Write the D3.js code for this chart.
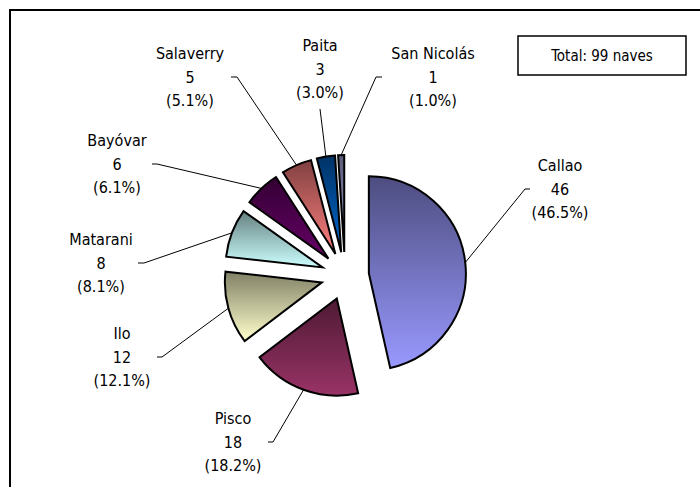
<!DOCTYPE html>
<html>
<head>
<meta charset="utf-8">
<script src="https://cdn.jsdelivr.net/npm/d3@7"></script>
<style>
  html, body { margin: 0; padding: 0; background: #fff; }
  svg { display: block; }
</style>
</head>
<body>
<svg id="chart" width="700" height="487"></svg>
<script>
// ---- data ----
const ports = ["Callao", "Pisco", "Ilo", "Matarani", "Bayóvar", "Salaverry", "Paita", "San Nicolás"];
const ships = [46, 18, 12, 8, 6, 5, 3, 1];
const totalLabel = "Total: 99 naves";

// ---- styling / layout (not data) ----
const colorTop = ["#4d4d80", "#4d1a33", "#808066", "#668080", "#330033", "#804040", "#003366", "#5a5a7a"];
const colorBottom = ["#9999ff", "#993366", "#ffffcc", "#ccffff", "#660066", "#ff8080", "#0066cc", "#a0a0cc"];
// label centre (middle line) and leader tick [x1, x2] at tick y
const labelLayout = [
  { x: 560, y: 189, tick: [530, 525] },
  { x: 233, y: 442, tick: [268, 273] },
  { x: 122, y: 357, tick: [157, 162] },
  { x: 101, y: 263, tick: [138, 144] },
  { x: 117, y: 164, tick: [152, 157] },
  { x: 190, y: 77,  tick: [231, 237] },
  { x: 320, y: 69,  tick: null, start: [320, 109] },
  { x: 433, y: 77,  tick: [382, 376] }
];

const svg = d3.select("#chart");
const cx = 345, cy = 276, R = 97, explode = 24;
const lineH = 23.5;
const fontFam = "'DejaVu Sans Condensed', 'DejaVu Sans', sans-serif";

// outer frame
svg.append("rect").attr("x", 10).attr("y", 10).attr("width", 720).attr("height", 500)
  .attr("fill", "none").attr("stroke", "#000").attr("stroke-width", 2);

const total = d3.sum(ships);
const data = ports.map((p, i) => ({ name: p, value: ships[i], i }));

const pie = d3.pie().value(d => d.value).sort(null).startAngle(0).endAngle(2 * Math.PI);
const arcs = pie(data);
const arc = d3.arc().innerRadius(0).outerRadius(R);

const defs = svg.append("defs");
arcs.forEach((a, i) => {
  const g = defs.append("linearGradient").attr("id", "grad" + i)
    .attr("x1", 0).attr("y1", 0).attr("x2", 0).attr("y2", 1);
  g.append("stop").attr("offset", "0%").attr("stop-color", colorTop[i]);
  g.append("stop").attr("offset", "100%").attr("stop-color", colorBottom[i]);
});

const gPie = svg.append("g").attr("transform", `translate(${cx},${cy})`);
function mid(a) { return (a.startAngle + a.endAngle) / 2; }

gPie.selectAll("path.slice").data(arcs).enter().append("path")
  .attr("class", "slice")
  .attr("transform", a => {
    const m = mid(a);
    return `translate(${explode * Math.sin(m)},${-explode * Math.cos(m)})`;
  })
  .attr("d", arc)
  .attr("fill", (a, i) => `url(#grad${i})`)
  .attr("stroke", "#000").attr("stroke-width", 2).attr("stroke-linejoin", "miter");

// leader lines
const outerArc = d3.arc().innerRadius(R + explode).outerRadius(R + explode);
arcs.forEach((a, i) => {
  const L = labelLayout[i];
  const p = outerArc.centroid(a);
  const end = [cx + p[0], cy + p[1]];
  let pts;
  if (L.tick) pts = [[L.tick[0], L.y], [L.tick[1], L.y], end];
  else pts = [L.start, end];
  svg.append("path").attr("d", d3.line()(pts))
    .attr("fill", "none").attr("stroke", "#000").attr("stroke-width", 1);
});

// labels
arcs.forEach((a, i) => {
  const L = labelLayout[i];
  const pct = (a.data.value / total * 100).toFixed(1);
  const lines = [a.data.name, String(a.data.value), `(${pct}%)`];
  const t = svg.append("text")
    .attr("text-anchor", "middle")
    .attr("font-family", fontFam)
    .attr("font-size", 16)
    .attr("fill", "#000");
  lines.forEach((s, k) => {
    t.append("tspan").attr("x", L.x).attr("y", L.y + (k - 1) * lineH).attr("dy", "0.36em").text(s);
  });
});

// total box
svg.append("rect").attr("x", 518).attr("y", 36).attr("width", 168).attr("height", 39)
  .attr("fill", "#fff").attr("stroke", "#000").attr("stroke-width", 1.5);
svg.append("text").attr("x", 602).attr("y", 56).attr("dy", "0.36em")
  .attr("text-anchor", "middle").attr("font-family", fontFam).attr("font-size", 15)
  .text(totalLabel);
</script>
</body>
</html>
